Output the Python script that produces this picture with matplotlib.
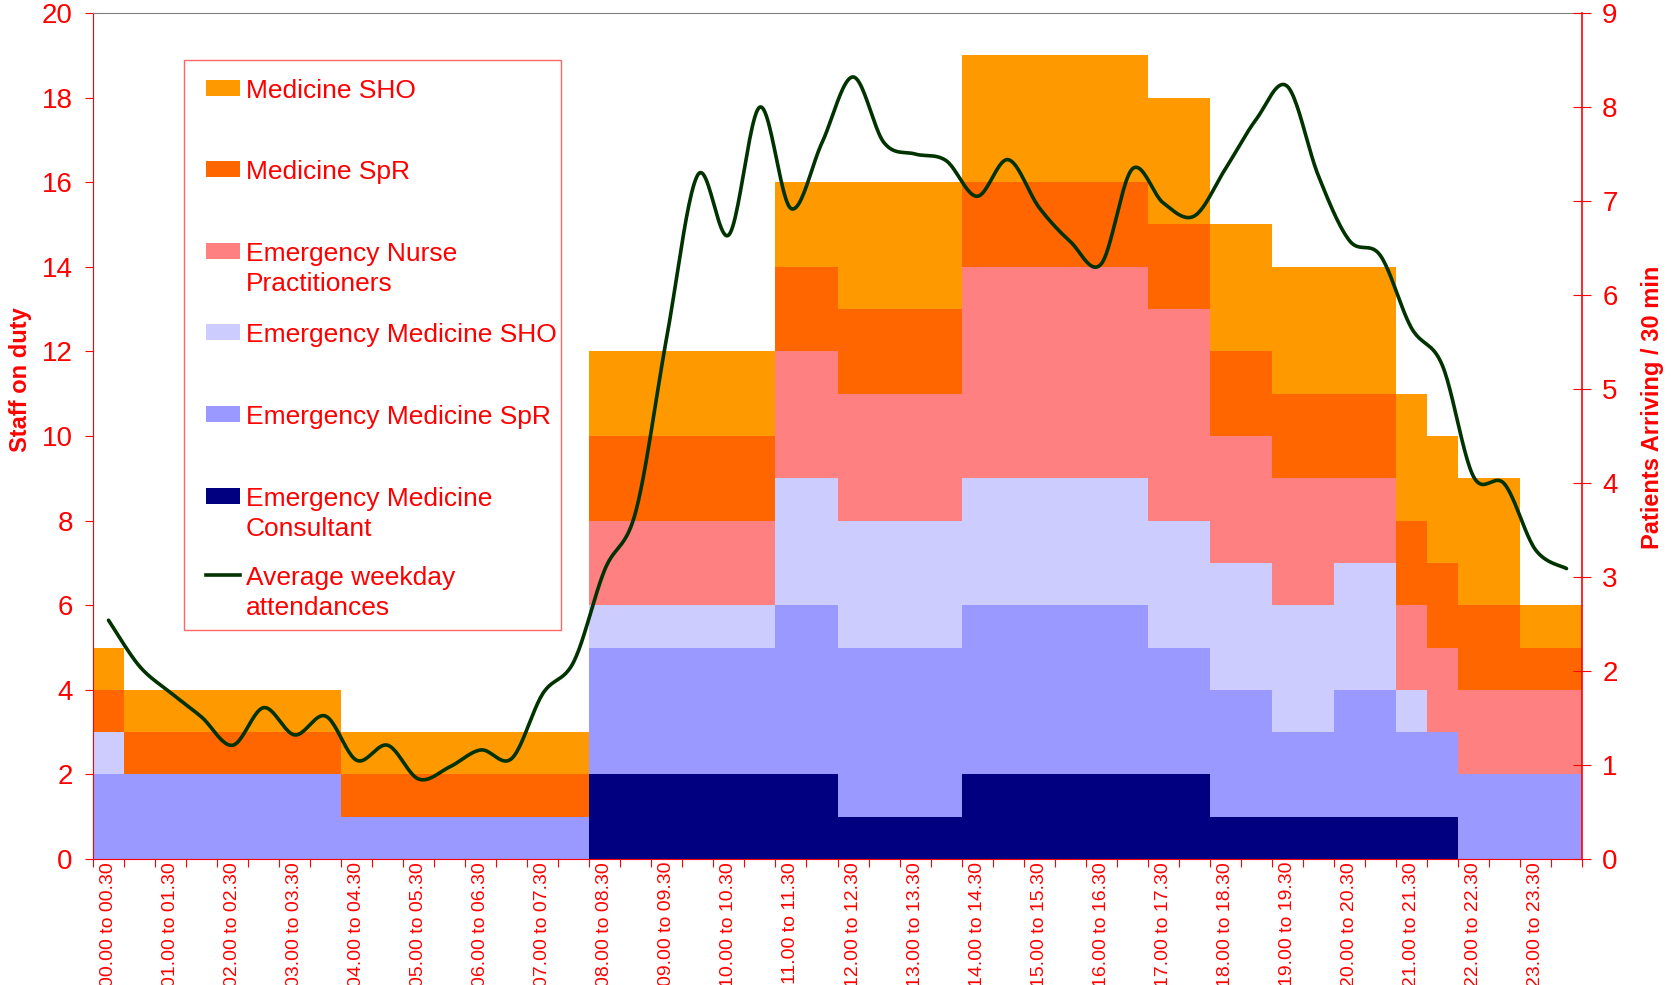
import matplotlib
matplotlib.use("Agg")
import matplotlib.pyplot as plt
import numpy as np
from matplotlib.patches import Rectangle
from matplotlib.lines import Line2D

plt.rcParams['font.family'] = ['Liberation Sans', 'DejaVu Sans']

# staff on duty per 30-minute slot (48 slots, 00.00 -> 24.00)
em_consultant = [0]*16 + [2]*8 + [1]*4 + [2]*8 + [1]*8 + [0]*4
em_spr = [2]*8 + [1]*8 + [3]*6 + [4]*12 + [3]*4 + [2]*2 + [3]*2 + [2]*6
em_sho = [1] + [0]*15 + [1]*6 + [3]*20 + [1] + [0]*5
enp = [0]*16 + [2]*6 + [3]*6 + [5]*8 + [3]*4 + [2]*8
med_spr = [1]*16 + [2]*30 + [1]*2
med_sho = [1]*16 + [2]*8 + [3]*22 + [1]*2

# average weekday attendances per 30 min (right axis)
attendances = [2.54, 2.05, 1.77, 1.51, 1.21, 1.61, 1.32, 1.52, 1.05, 1.21, 0.85, 0.98,
               1.16, 1.07, 1.76, 2.10, 3.08, 3.70, 5.56, 7.28, 6.64, 8.00, 6.92, 7.62,
               8.32, 7.62, 7.50, 7.43, 7.05, 7.44, 6.93, 6.57, 6.33, 7.34, 6.98, 6.84,
               7.34, 7.87, 8.22, 7.27, 6.58, 6.42, 5.65, 5.25, 4.07, 3.99, 3.29, 3.09]

hours = ['%02d.00 to %02d.30' % (h, h) for h in range(24)]

series = [em_consultant, em_spr, em_sho, enp, med_spr, med_sho]
colors = ['#000080', '#9999FF', '#CCCCFF', '#FF8080', '#FF6600', '#FF9900']

legend_labels = ['Medicine SHO', 'Medicine SpR', 'Emergency Nurse\nPractitioners',
                 'Emergency Medicine SHO', 'Emergency Medicine SpR',
                 'Emergency Medicine\nConsultant', 'Average weekday\nattendances']
legend_colors = ['#FF9900', '#FF6600', '#FF8080', '#CCCCFF', '#9999FF', '#000080', '#003300']


def catmull_rom(xp, yp, n=24):
    pts = np.column_stack([xp, yp]).astype(float)
    P = np.vstack([pts[0], pts, pts[-1]])
    out = []
    t = np.linspace(0, 1, n, endpoint=False)[:, None]
    for k in range(len(pts) - 1):
        p0, p1, p2, p3 = P[k], P[k + 1], P[k + 2], P[k + 3]
        c = 0.5 * (2 * p1 + (-p0 + p2) * t + (2 * p0 - 5 * p1 + 4 * p2 - p3) * t ** 2
                   + (-p0 + 3 * p1 - 3 * p2 + p3) * t ** 3)
        out.append(c)
    out.append(pts[-1:])
    return np.vstack(out)


W, H = 1675, 985
fig = plt.figure(figsize=(W / 100, H / 100), dpi=100)
ax = fig.add_axes([93 / W, 1 - 859 / H, (1582 - 93) / W, (859 - 13) / H])

RED = '#FF0000'
edges = np.arange(49)
bottom = np.zeros(48)
for vals, c in zip(series, colors):
    v = np.array(vals, dtype=float)
    top = bottom + v
    ax.fill_between(edges, np.append(bottom, bottom[-1]), np.append(top, top[-1]),
                    step='post', color=c, linewidth=0, antialiased=False)
    bottom = top

ax.set_xlim(0, 48)
ax.set_ylim(0, 20)
ax.set_yticks(np.arange(0, 21, 2))
ax.set_xticks(edges)
ax.set_xticklabels([])
ax.set_xticks(np.arange(0, 48, 2) + 0.5, minor=True)
ax.set_xticklabels(hours, minor=True, rotation=90, fontsize=14, color=RED)
ax.tick_params(axis='x', which='major', direction='out', length=6, color=RED)
ax.tick_params(axis='x', which='minor', length=0, pad=2)
ax.tick_params(axis='y', direction='out', length=6, color=RED, labelcolor=RED,
               labelsize=20, pad=8.5)
ax.spines['left'].set_color(RED)
ax.spines['bottom'].set_color(RED)
ax.spines['top'].set_color('#808080')
ax.spines['right'].set_visible(False)

ax2 = ax.twinx()
xs = np.arange(48) + 0.5
curve = catmull_rom(xs, attendances)
ax2.plot(curve[:, 0], curve[:, 1], color='#003300', lw=2.6, solid_capstyle='round')
ax2.set_ylim(0, 9)
ax2.set_yticks(np.arange(0, 10))
ax2.tick_params(axis='y', direction='inout', length=13, color=RED, labelcolor=RED,
                labelsize=20, pad=8)
for s in ['left', 'top', 'bottom']:
    ax2.spines[s].set_visible(False)
ax2.spines['right'].set_color(RED)
ax2.spines['right'].set_linewidth(1.2)

fig.text(21 / W, 1 - 380 / H, 'Staff on duty', rotation=90, ha='center', va='center',
         fontsize=17, fontweight='bold', color=RED)
fig.text(1653 / W, 1 - 407 / H, 'Patients Arriving / 30 min', rotation=90, ha='center',
         va='center', fontsize=17, fontweight='bold', color=RED)

# legend box drawn by hand (swatch aligned with first text line)
fig.add_artist(Rectangle((184 / W, 1 - 630 / H), (561 - 184) / W, (630 - 60) / H,
                         fill=False, edgecolor='#FF6666', lw=1.0, transform=fig.transFigure))
entry_y = [88, 169, 251, 332, 414, 496, 575]
for lab, c, y in zip(legend_labels, legend_colors, entry_y):
    if lab.startswith('Average'):
        fig.add_artist(Line2D([206 / W, 240 / W], [1 - y / H, 1 - y / H], color=c, lw=2.6,
                              transform=fig.transFigure))
    else:
        fig.add_artist(Rectangle((206 / W, 1 - (y + 8) / H), 34 / W, 16 / H, facecolor=c,
                                 edgecolor='none', transform=fig.transFigure))
    for k, line in enumerate(lab.split('\n')):
        fig.text(246 / W, 1 - (y + 3 + 30 * k) / H, line, ha='left', va='center',
                 fontsize=19, color=RED)

fig.savefig('out.png', dpi=100)
